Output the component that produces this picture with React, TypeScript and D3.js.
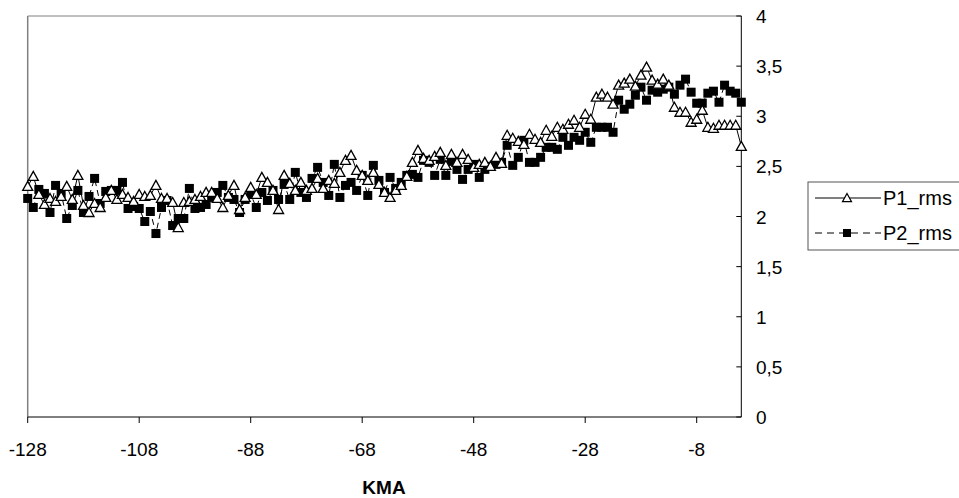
import React from "react";
import * as d3 from "d3";

const xStart = -128;
const xTicks = [-128, -108, -88, -68, -48, -28, -8];
const yTicks = [0, 0.5, 1, 1.5, 2, 2.5, 3, 3.5, 4];
const yTickLabels = ["0", "0,5", "1", "1,5", "2", "2,5", "3", "3,5", "4"];
const seriesNames = ["P1_rms", "P2_rms"];

const p1 = [
  2.30, 2.40, 2.22, 2.12, 2.18, 2.15, 2.20, 2.30, 2.17, 2.41,
  2.11, 2.04, 2.13, 2.09, 2.19, 2.26, 2.17, 2.22, 2.19, 2.15,
  2.22, 2.20, 2.21, 2.31, 2.18, 2.18, 2.14, 1.89, 2.14, 2.15,
  2.17, 2.20, 2.24, 2.24, 2.18, 2.09, 2.21, 2.31, 2.07, 2.19,
  2.29, 2.22, 2.39, 2.34, 2.26, 2.07, 2.41, 2.33, 2.26, 2.34,
  2.26, 2.28, 2.38, 2.28, 2.36, 2.33, 2.44, 2.56, 2.61, 2.46,
  2.41, 2.36, 2.44, 2.32, 2.24, 2.19, 2.26, 2.31, 2.40, 2.54,
  2.66, 2.58, 2.56, 2.60, 2.64, 2.51, 2.62, 2.54, 2.62, 2.57,
  2.49, 2.52, 2.54, 2.50, 2.59, 2.53, 2.81, 2.78, 2.75, 2.72,
  2.82, 2.77, 2.74, 2.86, 2.80, 2.89, 2.87, 2.92, 2.96, 2.89,
  3.02, 2.97, 3.19, 3.22, 3.19, 3.12, 3.31, 3.33, 3.37, 3.30,
  3.41, 3.49, 3.36, 3.32, 3.37, 3.31, 3.09, 3.04, 3.04, 2.94,
  2.97, 3.06, 2.89, 2.88, 2.91, 2.91, 2.91, 2.91, 2.70,
];

const p2 = [
  2.18, 2.09, 2.27, 2.23, 2.04, 2.31, 2.23, 1.98, 2.11, 2.26,
  2.04, 2.20, 2.38, 2.13, 2.25, 2.26, 2.26, 2.34, 2.08, 2.10,
  2.08, 1.95, 2.05, 1.83, 2.09, 2.16, 1.91, 1.98, 1.98, 2.28,
  2.08, 2.09, 2.12, 2.19, 2.24, 2.31, 2.19, 2.17, 2.04, 2.17,
  2.22, 2.09, 2.24, 2.16, 2.26, 2.17, 2.32, 2.17, 2.44, 2.24,
  2.19, 2.38, 2.49, 2.34, 2.21, 2.52, 2.19, 2.31, 2.34, 2.26,
  2.41, 2.21, 2.51, 2.36, 2.24, 2.39, 2.28, 2.34, 2.41, 2.42,
  2.39, 2.56, 2.54, 2.41, 2.57, 2.41, 2.55, 2.47, 2.37, 2.47,
  2.52, 2.39, 2.47, 2.50, 2.52, 2.54, 2.71, 2.51, 2.59, 2.76,
  2.54, 2.54, 2.59, 2.69, 2.69, 2.67, 2.79, 2.71, 2.79, 2.76,
  2.84, 2.74, 2.89, 2.89, 2.89, 2.84, 3.16, 3.07, 3.12, 3.21,
  3.29, 3.16, 3.26, 3.24, 3.27, 3.29, 3.22, 3.31, 3.37, 3.24,
  3.13, 3.13, 3.23, 3.25, 3.14, 3.31, 3.25, 3.23, 3.14,
];

const W = 959;
const H = 498;
const FONT = "Liberation Sans, Arial, sans-serif";

export default function App() {
  const x = d3.scaleLinear().domain([xStart, 0]).range([27.7, 741.3]);
  const y = d3.scaleLinear().domain([0, 4]).range([417, 16]);
  const d1 = p1.map((v, i) => [xStart + i, v] as [number, number]);
  const d2 = p2.map((v, i) => [xStart + i, v] as [number, number]);
  const line = d3
    .line<[number, number]>()
    .x((d) => x(d[0]))
    .y((d) => y(d[1]));

  const tri = (cx: number, cy: number, s = 5) =>
    `M${cx},${cy - s}L${cx + s},${cy + s * 0.8}L${cx - s},${cy + s * 0.8}Z`;

  const [x0, x1] = x.range();
  const [yb, yt] = y.range();

  return (
    <svg
      width={W}
      height={H}
      style={{ position: "absolute", left: 0, top: 0, background: "#fff" }}
      fontFamily={FONT}
    >
      <rect x={0} y={0} width={W} height={H} fill="#fff" />
      <line x1={x0} y1={yt} x2={x1} y2={yt} stroke="#808080" strokeWidth={1} />
      <line x1={x0} y1={yt} x2={x0} y2={yb} stroke="#808080" strokeWidth={1.5} />
      <line x1={x0} y1={yb} x2={x1} y2={yb} stroke="#000" strokeWidth={1} />
      <line x1={x1} y1={yt} x2={x1} y2={yb} stroke="#000" strokeWidth={1} />
      {xTicks.map((t) => (
        <g key={t}>
          <line x1={x(t)} y1={yb} x2={x(t)} y2={yb + 6} stroke="#000" />
          <text x={x(t)} y={456} textAnchor="middle" fontSize={19} fill="#000">
            {t}
          </text>
        </g>
      ))}
      {yTicks.map((t, i) => (
        <g key={t}>
          <line x1={x1 - 5} y1={y(t)} x2={x1} y2={y(t)} stroke="#000" />
          <text x={756} y={y(t) + 7} fontSize={19} fill="#000">
            {yTickLabels[i]}
          </text>
        </g>
      ))}
      <text
        x={384}
        y={494}
        textAnchor="middle"
        fontSize={19}
        fontWeight="bold"
        fill="#000"
      >
        KMA
      </text>

      <path d={line(d2) || ""} fill="none" stroke="#000" strokeWidth={1} strokeDasharray="6,4" />
      <path d={line(d1) || ""} fill="none" stroke="#000" strokeWidth={1} />
      {d2.map((d, i) => (
        <rect key={"s" + i} x={x(d[0]) - 4.5} y={y(d[1]) - 4.5} width={9} height={9} fill="#000" />
      ))}
      {d1.map((d, i) => (
        <path key={"t" + i} d={tri(x(d[0]), y(d[1]))} fill="#fff" stroke="#000" strokeWidth={1.3} />
      ))}

      <rect x={808} y={182} width={160} height={68} fill="#fff" stroke="#555" strokeWidth={1} />
      <line x1={815} y1={198} x2={881} y2={198} stroke="#000" />
      <path d={tri(847, 198, 4.5)} fill="#fff" stroke="#000" strokeWidth={1.2} />
      <text x={883} y={205} fontSize={20} fill="#000">
        {seriesNames[0]}
      </text>
      <line x1={815} y1={233} x2={881} y2={233} stroke="#000" strokeDasharray="7,5" />
      <rect x={843} y={229} width={8} height={8} fill="#000" />
      <text x={883} y={240} fontSize={20} fill="#000">
        {seriesNames[1]}
      </text>
    </svg>
  );
}
